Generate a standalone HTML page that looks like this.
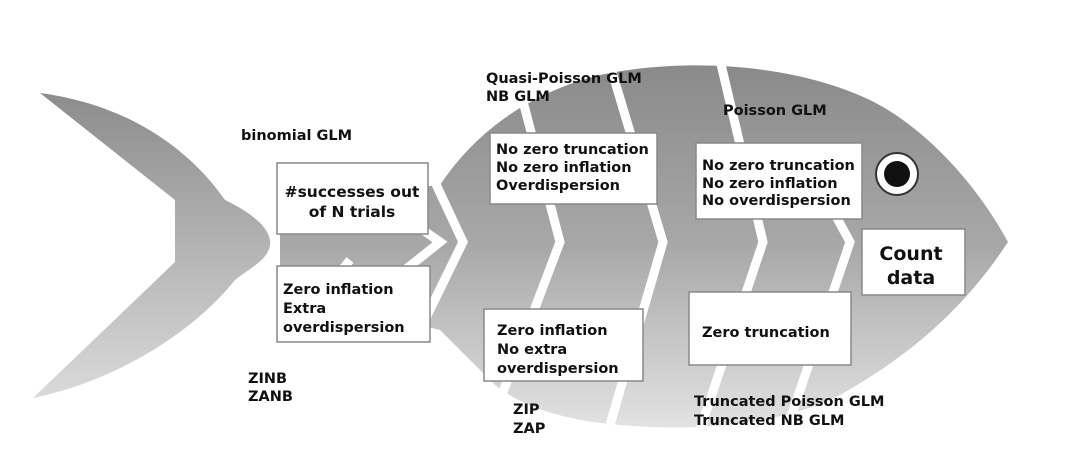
<!DOCTYPE html>
<html><head><meta charset="utf-8"><style>
html,body{margin:0;padding:0;background:#fff;}
svg{display:block}
text{font-family:"DejaVu Sans","Liberation Sans",sans-serif;font-weight:bold;fill:#111;font-size:14.5px}
</style></head><body>
<svg width="1074" height="451" viewBox="0 0 1074 451" xmlns="http://www.w3.org/2000/svg">
<defs>
<linearGradient id="g" x1="0" y1="0" x2="0" y2="1">
<stop offset="0" stop-color="#8a8a8a"/><stop offset="0.5" stop-color="#a8a8a8"/><stop offset="1" stop-color="#e2e2e2"/>
</linearGradient>
<linearGradient id="t" x1="0" y1="0" x2="0" y2="1">
<stop offset="0" stop-color="#8c8c8c"/><stop offset="1" stop-color="#dadada"/>
</linearGradient>
</defs>
<path d="M40,93 C130,105 190,150 225,200 C250,212 272,228 270,245 C268,260 250,268 235,280 C195,330 120,380 33,398 L175,262 L175,200 Z" fill="url(#t)"/>
<path d="M280,200 L440,185 C470,140 520,95 600,75 C680,58 790,62 870,100 C930,130 980,190 1008,242 C970,300 920,350 840,395 C780,425 700,432 620,425 C560,420 520,405 495,385 L440,330 L280,290 Z" fill="url(#g)"/>
<g stroke="#fff" stroke-width="9" fill="none">
<polyline points="380,200 440,242 380,290"/>
<polyline points="420,150 463,242 420,330"/>
<polyline points="520,90 560,242 500,400"/>
<polyline points="607,55 663,242 610,425"/>
<polyline points="720,60 763,242 700,430"/>
<polyline points="800,150 850,242 790,420"/>
<line x1="350" y1="260" x2="330" y2="285"/>
</g>
<circle cx="897" cy="174" r="21" fill="#fff" stroke="#333" stroke-width="2"/>
<circle cx="897" cy="174" r="13" fill="#111"/>
<g fill="#fff" stroke="#888" stroke-width="1.5">
<rect x="277" y="163" width="151" height="71"/>
<rect x="277" y="266" width="153" height="76"/>
<rect x="490" y="133" width="167" height="71"/>
<rect x="484" y="309" width="159" height="72"/>
<rect x="696" y="143" width="166" height="76"/>
<rect x="689" y="292" width="162" height="73"/>
<rect x="862" y="229" width="103" height="66"/>
</g>
<text x="241" y="140">binomial GLM</text>
<text x="486" y="83">Quasi-Poisson GLM</text>
<text x="486" y="101">NB GLM</text>
<text x="723" y="115">Poisson GLM</text>
<text x="352" y="197" text-anchor="middle" style="font-size:15.5px">#successes out</text>
<text x="352" y="217" text-anchor="middle" style="font-size:15.5px">of N trials</text>
<text x="283" y="294">Zero inflation</text>
<text x="283" y="313">Extra</text>
<text x="283" y="332">overdispersion</text>
<text x="496" y="154">No zero truncation</text>
<text x="496" y="172">No zero inflation</text>
<text x="496" y="190">Overdispersion</text>
<text x="702" y="170">No zero truncation</text>
<text x="702" y="188">No zero inflation</text>
<text x="702" y="205">No overdispersion</text>
<text x="497" y="335">Zero inflation</text>
<text x="497" y="354">No extra</text>
<text x="497" y="373">overdispersion</text>
<text x="702" y="337">Zero truncation</text>
<text x="911" y="260" text-anchor="middle" style="font-size:19px">Count</text>
<text x="911" y="284" text-anchor="middle" style="font-size:19px">data</text>
<text x="248" y="383">ZINB</text>
<text x="248" y="401">ZANB</text>
<text x="513" y="414">ZIP</text>
<text x="513" y="433">ZAP</text>
<text x="694" y="406">Truncated Poisson GLM</text>
<text x="694" y="425">Truncated NB GLM</text>
</svg>
</body></html>
